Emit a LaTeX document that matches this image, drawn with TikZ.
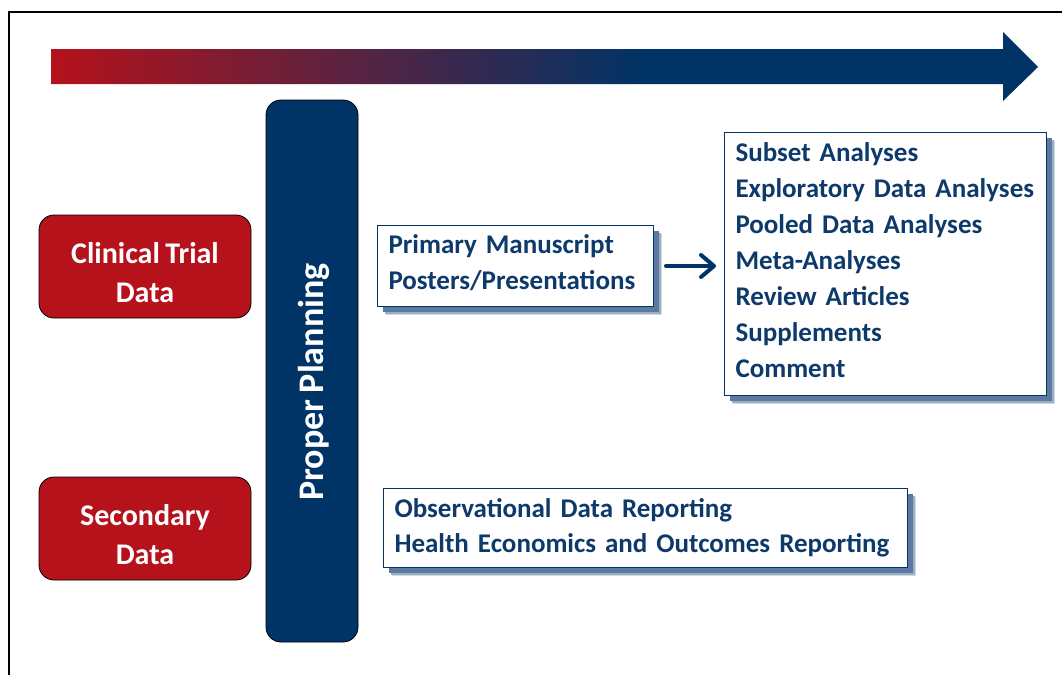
\documentclass[tikz,border=0pt]{standalone}
\usepackage{fontspec}
\setmainfont{Carlito}[WordSpace=0.8]
\usepackage{tikz}
\usetikzlibrary{positioning, arrows.meta, shadows}
\definecolor{ptred}{HTML}{B5121B}
\definecolor{ptnavy}{HTML}{003366}
\definecolor{pttext}{HTML}{0D3A6B}
\definecolor{ptshadow}{HTML}{4A6B96}
% red-to-navy fade for the timeline arrow (path spans 25bp..75bp)
\pgfdeclarehorizontalshading{timeline}{100bp}{color(0bp)=(ptred); color(25bp)=(ptred); color(55bp)=(ptnavy); color(100bp)=(ptnavy)}

\begin{document}
\begin{tikzpicture}[
  x=1pt, y=-1pt,
  font=\bfseries,
  srcbox/.style={draw=black, line width=0.8pt, rounded corners=15pt, fill=ptred,
                 text=white, align=center, minimum width=212pt, minimum height=103pt,
                 font=\fontsize{30}{39}\selectfont\bfseries},
  planbar/.style={draw=black, line width=0.8pt, rounded corners=15pt, fill=ptnavy,
                  minimum width=92pt, minimum height=542pt},
  % soft blue shadow, built up from three offset copies
  softshadow/.style={
    general shadow={fill=ptshadow!25, shadow xshift=8.5pt, shadow yshift=-8.5pt},
    general shadow={fill=ptshadow!55, shadow xshift=7pt, shadow yshift=-7pt},
    general shadow={fill=ptshadow!90, shadow xshift=5.5pt, shadow yshift=-5.5pt}},
  outbox/.style={softshadow, draw=ptnavy, line width=1pt, fill=white, anchor=north west,
                 align=left, inner xsep=11pt, text=pttext,
                 font=\fontsize{27}{36}\selectfont\bfseries},
  link/.style={-{Straight Barb[length=13pt, width=22pt, round]}, ptnavy,
               line width=4pt, line cap=round}
]
  \useasboundingbox (0,0) rectangle (1062,675);
  \fill[white] (0,0) rectangle (1062,675);
  \draw[line width=2pt] (9,675) -- (9,12) -- (1062,12);

  % timeline arrow across the top
  \shade[shading=timeline]
    (51,49) -- (1003,49) -- (1003,32) -- (1038,67) -- (1003,101)
    -- (1003,84) -- (51,84) -- cycle;

  % data sources (the struts push the text a little lower)
  \node[srcbox] (ctd) at (145,266.5) {\rule{0pt}{34pt}Clinical Trial\\Data};
  \node[srcbox] (sec) at (145,528.5) {\rule{0pt}{34pt}Secondary\\Data};

  \node[planbar] (plan) at (312,371) {};
  \node[rotate=90, text=white, font=\fontsize{36}{40}\selectfont\bfseries]
    (planlbl) at (314,382) {Proper Planning};

  \node[outbox, minimum width=276pt, minimum height=81pt, text width=254pt]
    (prim) at (377,225) {Primary Manuscript\\Posters/Presentations\rule[-7pt]{0pt}{0pt}};
  \node[outbox, minimum width=322pt, minimum height=263pt, text width=300pt]
    (deriv) at (724,132) {Subset Analyses\\Exploratory Data Analyses\\Pooled Data Analyses\\
      Meta-Analyses\\Review Articles\\Supplements\\Comment\rule[-8pt]{0pt}{0pt}};
  \node[outbox, minimum width=524pt, minimum height=79pt, text width=502pt,
        font=\fontsize{27}{35}\selectfont\bfseries]
    (obs) at (383,488) {Observational Data Reporting\\Health Economics and Outcomes Reporting};

  \draw[link, shorten <=12pt, shorten >=8pt] (prim.east) -- (prim.east -| deriv.west);
\end{tikzpicture}
\end{document}
